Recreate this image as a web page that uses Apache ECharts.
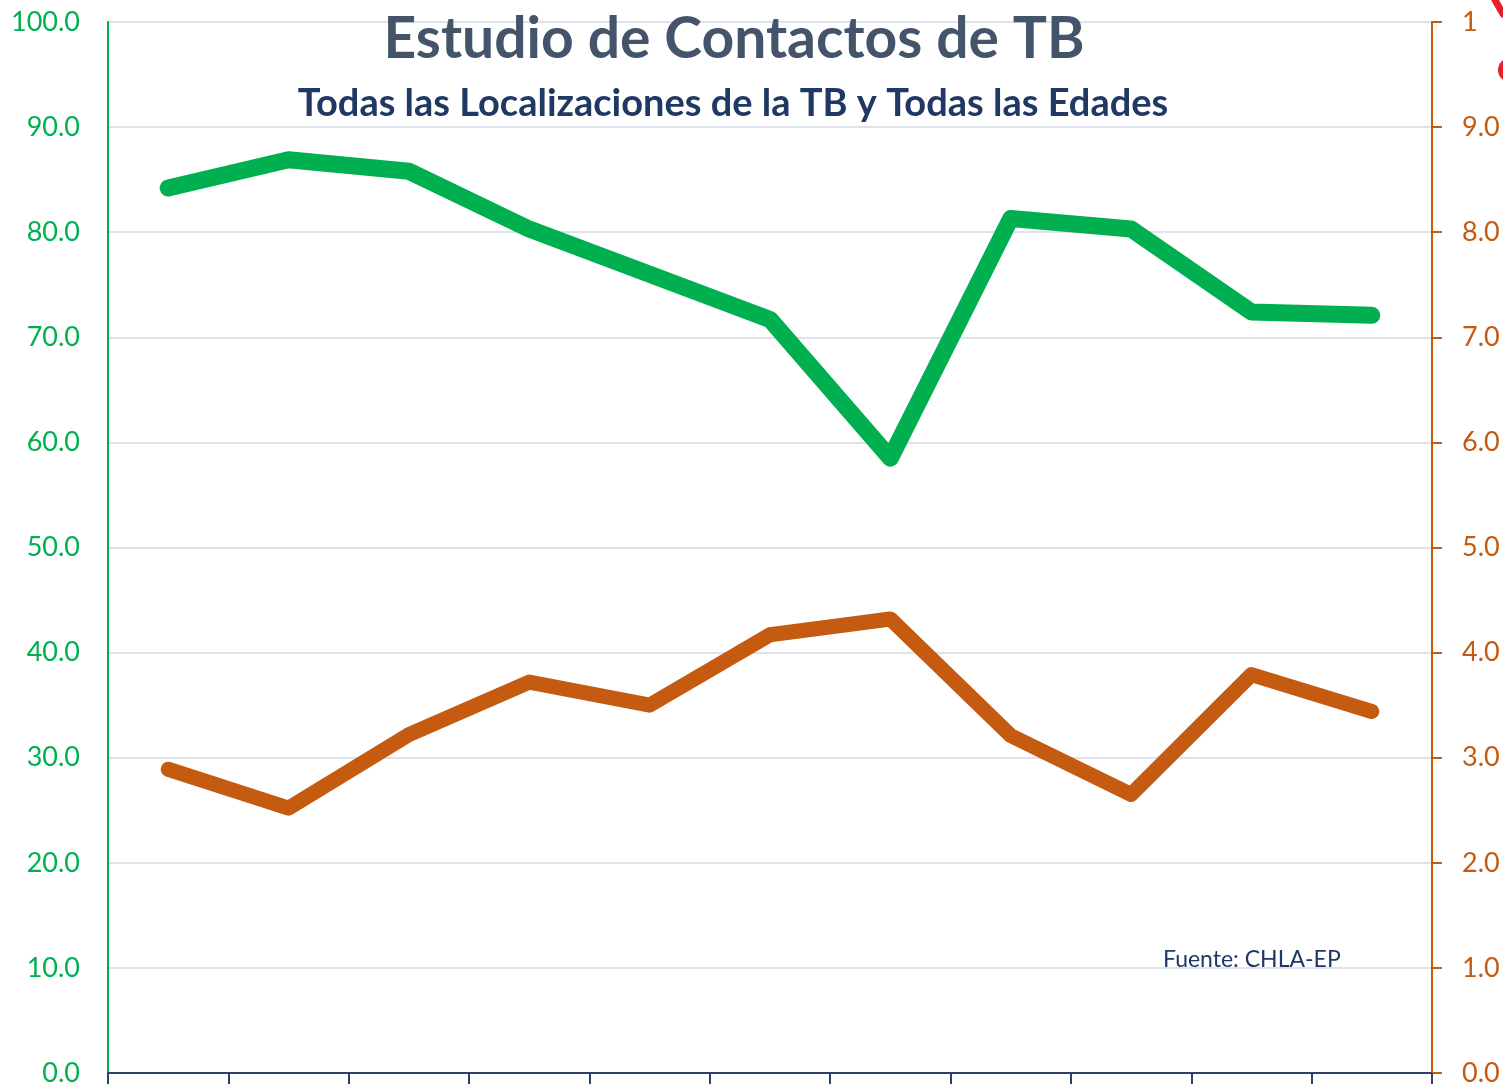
<!DOCTYPE html>
<html>
<head>
<meta charset="utf-8">
<script src="https://cdn.jsdelivr.net/npm/echarts@6/dist/echarts.min.js"></script>
<style>
html, body { margin: 0; padding: 0; background: #fff; }
#chart { width: 1503px; height: 1084px; }
</style>
</head>
<body>
<div id="chart"></div>
<script>
// categories (x labels are cut off in the picture)
var periods = ['1', '2', '3', '4', '5', '6', '7', '8', '9', '10', '11'];
// green line, left axis
var greenValues = [84.2, 86.9, 85.8, 80.3, 76.0, 71.7, 58.5, 81.3, 80.3, 72.4, 72.1];
// orange line, right axis
var orangeValues = [2.89, 2.52, 3.22, 3.72, 3.50, 4.17, 4.32, 3.21, 2.65, 3.79, 3.44];
var leftTicks = { min: 0, max: 100, interval: 10 };
var rightTicks = { min: 0, max: 10, interval: 1 };

var green = '#00b050';
var orange = '#c55a11';
var font = 'Lato, "Open Sans", sans-serif';

var chart = echarts.init(document.getElementById('chart'));
chart.setOption({
	animation: false,
	title: [
		{
			text: 'Estudio de Contactos de TB',
			left: 729,
			top: 6,
			textAlign: 'center',
			textStyle: { fontFamily: font, fontSize: 57, fontWeight: 'bold', color: '#44546a' }
		},
		{
			text: 'Todas las Localizaciones de la TB y Todas las Edades',
			left: 728,
			top: 80,
			textAlign: 'center',
			textStyle: { fontFamily: font, fontSize: 38, fontWeight: 'bold', color: '#1f3864' }
		}
	],
	grid: { left: 108, right: 71, top: 22, bottom: 11, outerBoundsMode: 'none', containLabel: false },
	xAxis: {
		type: 'category',
		data: periods,
		boundaryGap: true,
		axisLine: { lineStyle: { color: '#2f4068', width: 2 } },
		axisTick: { show: true, length: 12, lineStyle: { color: '#2f4068', width: 2 } },
		axisLabel: { show: false },
		splitLine: { show: false }
	},
	yAxis: [
		{
			type: 'value',
			min: leftTicks.min,
			max: leftTicks.max,
			interval: leftTicks.interval,
			position: 'left',
			axisLine: { show: true, lineStyle: { color: green, width: 2 } },
			axisTick: { show: false },
			axisLabel: {
				color: green, fontFamily: font, fontSize: 27, margin: 28,
				formatter: function (v) { return v.toFixed(1); }
			},
			splitLine: { lineStyle: { color: '#dfe2ea', width: 2 } }
		},
		{
			type: 'value',
			min: rightTicks.min,
			max: rightTicks.max,
			interval: rightTicks.interval,
			position: 'right',
			axisLine: { show: true, lineStyle: { color: orange, width: 2 } },
			axisTick: { show: true, length: 10, lineStyle: { color: orange, width: 2 } },
			axisLabel: {
				color: orange, fontFamily: font, fontSize: 27, margin: 30,
				formatter: function (v) { return v.toFixed(1); }
			},
			splitLine: { show: false }
		}
	],
	series: [
		{
			name: 'verde',
			type: 'line',
			yAxisIndex: 0,
			data: greenValues,
			symbol: 'none',
			lineStyle: { color: green, width: 17, cap: 'round', join: 'round' },
			z: 3
		},
		{
			name: 'naranja',
			type: 'line',
			yAxisIndex: 1,
			data: orangeValues,
			symbol: 'none',
			lineStyle: { color: orange, width: 15, cap: 'round', join: 'round' },
			z: 2
		}
	],
	graphic: [
		{
			type: 'text',
			left: 1163,
			top: 948,
			style: { text: 'Fuente: CHLA-EP', fontFamily: font, fontSize: 23, fill: '#1f3864' }
		},
		// white patch of the overlapping picture at the top right corner
		{
			type: 'rect',
			shape: { x: 1477, y: 0, width: 30, height: 45 },
			style: { fill: '#ffffff' },
			z: 50
		},
		{
			type: 'circle',
			shape: { cx: 1510, cy: 70, r: 12 },
			style: { fill: '#e8202a' },
			z: 51
		},
		{
			type: 'polyline',
			shape: { points: [[1495, 0], [1503, 14]] },
			style: { stroke: '#e8202a', lineWidth: 7, lineCap: 'round' },
			z: 51
		}
	]
});
</script>
</body>
</html>
